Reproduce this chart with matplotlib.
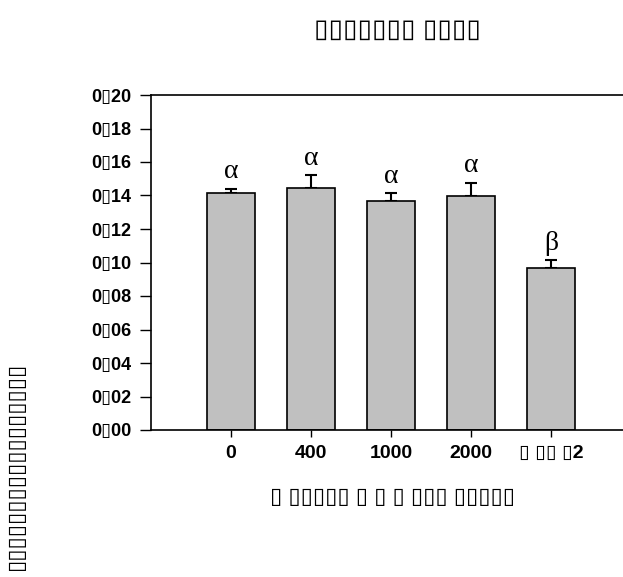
import numpy as np
import matplotlib
matplotlib.use("Agg")
import matplotlib.pyplot as plt

# values
groups = ["0", "400", "1000", "2000", "\u25af \u25af\u25af \u25af2"]
means = [0.1415, 0.1442, 0.1365, 0.1395, 0.0966]
errs = [0.0026, 0.0082, 0.0048, 0.0082, 0.0046]
letters = ["\u03b1", "\u03b1", "\u03b1", "\u03b1", "\u03b2"]
yticks = [0.00, 0.02, 0.04, 0.06, 0.08, 0.10, 0.12, 0.14, 0.16, 0.18, 0.20]
ytick_labels = [f"{v:.2f}".replace(".", "\u25af") for v in yticks]

title = "\u25af\u25af\u25af\u25af\u25af\u25af\u25af \u25af\u25af\u25af\u25af"
xlabel = "\u25af \u25af\u25af\u25af\u25af\u25af \u25af \u25af \u25af \u25af\u25af\u25af \u25af\u25af\u25af\u25af\u25af"
ylabel = "\u25af" * 17

bold_fam = ["Liberation Sans", "DejaVu Sans"]

fig = plt.figure(figsize=(6.23, 5.77), dpi=100)
ax = fig.add_axes([151 / 623, 1 - 430 / 577, 1 - 151 / 623, (430 - 95) / 577])

x = np.arange(len(groups))
ax.bar(x, means, width=0.6, color="#c0c0c0", edgecolor="black", linewidth=1.2, zorder=2)
ax.errorbar(x, means, yerr=[np.zeros(len(errs)), errs], fmt="none", ecolor="black",
            elinewidth=1.5, capsize=4.5, capthick=1.5, zorder=1)

for xi, m, e, lab in zip(x, means, errs, letters):
    ax.annotate(lab, (xi, m + e), xytext=(0, 3), textcoords="offset points",
                ha="center", va="bottom", fontsize=20, family="Liberation Serif")

ax.set_xlim(-1.0, 4.9)
ax.set_ylim(0, 0.20)
ax.set_yticks(yticks)
ax.set_yticklabels(ytick_labels, family=bold_fam, fontweight="bold", fontsize=13)
ax.set_xticks(x)
ax.set_xticklabels(groups, family=bold_fam, fontweight="bold", fontsize=14)
ax.tick_params(axis="y", length=8, width=1, pad=6)
ax.tick_params(axis="x", length=5, width=1, pad=6)
ax.spines["right"].set_visible(False)
for s in ["left", "top", "bottom"]:
    ax.spines[s].set_linewidth(1.2)

fig.text(397 / 623, 1 - 30 / 577, title, ha="center", va="center",
         fontsize=19, family=bold_fam, fontweight="bold")
fig.text(392 / 623, 1 - 497 / 577, xlabel, ha="center", va="center",
         fontsize=16, family=bold_fam, fontweight="bold")
fig.text(16 / 623, 1 - 466 / 577, ylabel, ha="center", va="center", rotation=90,
         fontsize=16, family=bold_fam, fontweight="bold")

fig.savefig("out.png", dpi=100)
